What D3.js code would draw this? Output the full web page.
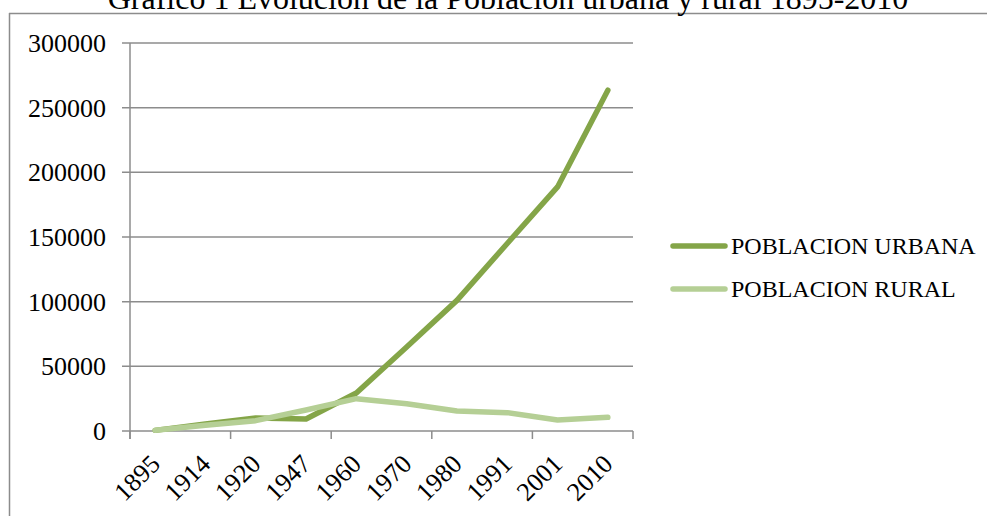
<!DOCTYPE html>
<html><head><meta charset="utf-8">
<script src="https://cdn.jsdelivr.net/npm/d3@7/dist/d3.min.js"></script>
<style>html,body{margin:0;padding:0;background:#fff;}svg{display:block;}</style>
</head><body>
<svg id="c" width="987" height="516"></svg>
<script>
const title = "Gráfico 1 Evolución de la Población urbana y rural 1895-2010";
const years = ["1895","1914","1920","1947","1960","1970","1980","1991","2001","2010"];
const urbana = [500, 5500, 10000, 9300, 29400, 65000, 101000, 145000, 188700, 263500];
const rural  = [500, 4500, 8000, 16200, 25000, 21000, 15500, 14200, 8500, 10600];
const yTicks = [0, 50000, 100000, 150000, 200000, 250000, 300000];
const seriesNames = ["POBLACION URBANA", "POBLACION RURAL"];
const seriesColors = ["#84a548", "#b5cf95"];

const svg = d3.select("#c");
const font = "'Liberation Serif','Times New Roman',serif";
const L = 130, R = 633, T = 43, B = 431;

// frame
svg.append("line").attr("x1",9.5).attr("x2",9.5).attr("y1",13).attr("y2",516).attr("stroke","#8c8c8c").attr("stroke-width",1.5);
svg.append("line").attr("x1",9).attr("x2",987).attr("y1",13.5).attr("y2",13.5).attr("stroke","#8c8c8c").attr("stroke-width",1.5);

svg.append("text").attr("x",508).attr("y",9).attr("text-anchor","middle")
  .attr("font-family",font).attr("font-size",32).attr("fill","#000").text(title);

const x = d3.scaleBand().domain(years).range([L, R]);
const y = d3.scaleLinear().domain([0, 300000]).range([B, T]);
const cx = d => x(d) + x.bandwidth()/2;

// gridlines
svg.append("g").selectAll("line").data(yTicks).join("line")
  .attr("x1", L-8).attr("x2", R).attr("y1", d=>y(d)).attr("y2", d=>y(d))
  .attr("stroke","#8c8c8c").attr("stroke-width",1.5);
// y axis line
svg.append("line").attr("x1",L).attr("x2",L).attr("y1",T).attr("y2",B+8).attr("stroke","#8c8c8c").attr("stroke-width",1.5);
// x tick marks every 2 categories
const xt = years.filter((d,i)=>i%2===0).map(d=>x(d)).concat([R]);
svg.append("g").selectAll("line").data(xt).join("line")
  .attr("x1",d=>d).attr("x2",d=>d).attr("y1",B).attr("y2",B+8)
  .attr("stroke","#8c8c8c").attr("stroke-width",1.5);

// y labels
svg.append("g").selectAll("text").data(yTicks).join("text")
  .attr("x", 106).attr("y", d=>y(d)).attr("dy","0.35em").attr("text-anchor","end")
  .attr("font-family",font).attr("font-size",26).attr("fill","#000").text(d=>d);

// x labels
svg.append("g").selectAll("text").data(years).join("text")
  .attr("transform", d=>`translate(${cx(d)},${B+28}) rotate(-45)`)
  .attr("text-anchor","end").attr("dy","0.35em")
  .attr("font-family",font).attr("font-size",26).attr("fill","#000").text(d=>d);

// lines
const line = d3.line().x((d,i)=>cx(years[i])).y(d=>y(d));
[urbana, rural].forEach((s,k)=>{
  svg.append("path").datum(s).attr("d",line).attr("fill","none")
    .attr("stroke",seriesColors[k]).attr("stroke-width",5.5)
    .attr("stroke-linejoin","round").attr("stroke-linecap","round");
});
// legend
const ly = [246, 289];
seriesNames.forEach((n,k)=>{
  svg.append("line").attr("x1",673).attr("x2",725).attr("y1",ly[k]).attr("y2",ly[k])
    .attr("stroke",seriesColors[k]).attr("stroke-width",5.5).attr("stroke-linecap","round");
  svg.append("text").attr("x",731).attr("y",ly[k]).attr("dy","0.35em")
    .attr("font-family",font).attr("font-size",24).attr("fill","#000").text(n);
});
</script>
</body></html>
